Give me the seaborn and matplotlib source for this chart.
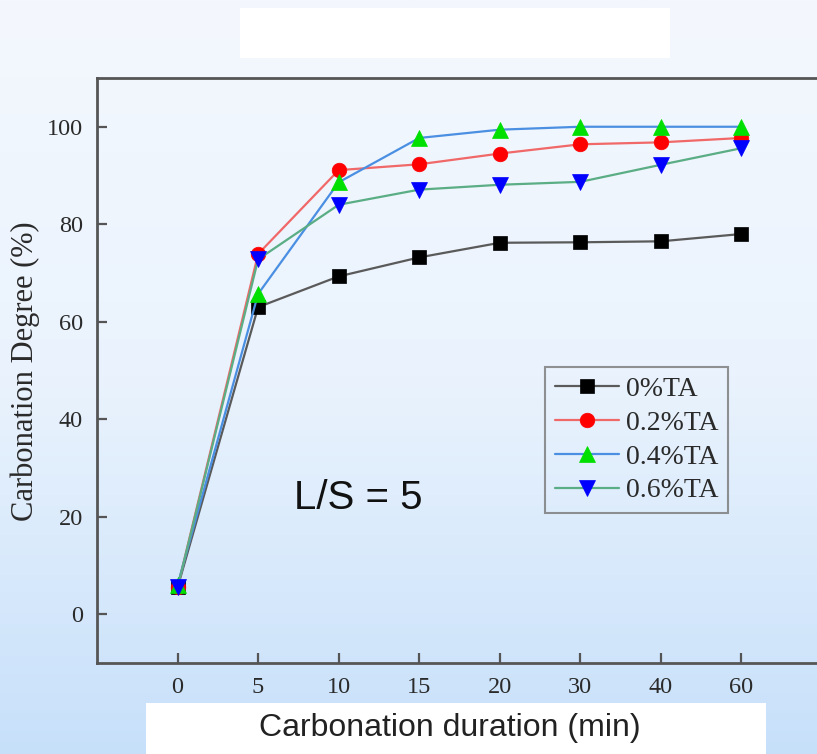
import numpy as np
import pandas as pd
import matplotlib
matplotlib.use("Agg")
import matplotlib.pyplot as plt
from matplotlib.patches import Rectangle
from matplotlib.colors import LinearSegmentedColormap
import seaborn as sns

# ---------------- data ----------------
durations = ["0", "5", "10", "15", "20", "30", "40", "60"]
ta_0 = [5.5, 63.0, 69.3, 73.2, 76.2, 76.3, 76.5, 78.0]
ta_02 = [5.5, 73.9, 91.1, 92.3, 94.5, 96.4, 96.8, 97.7]
ta_04 = [6.0, 65.7, 88.6, 97.7, 99.4, 100.0, 100.0, 100.0]
ta_06 = [5.5, 72.8, 84.0, 87.1, 88.1, 88.7, 92.2, 95.6]
series_labels = ["0%TA", "0.2%TA", "0.4%TA", "0.6%TA"]
yticks = [0, 20, 40, 60, 80, 100]

sns.set_style("ticks")
plt.rcParams["font.family"] = ["Liberation Serif", "DejaVu Serif"]

fig = plt.figure(figsize=(8.17, 7.54), dpi=100)

# background gradient
bg = fig.add_axes([0, 0, 1, 1], zorder=-10)
cmap = LinearSegmentedColormap.from_list("bg", ["#f4f8fe", "#eaf3fd", "#c7e0fa"])
grad = np.linspace(0, 1, 256).reshape(-1, 1)
bg.imshow(grad, aspect="auto", cmap=cmap, extent=[0, 1, 0, 1], origin="upper")
bg.set_axis_off()

# white boxes
fig.patches.append(Rectangle((240 / 817, 1 - 58 / 754), 430 / 817, 50 / 754,
                             transform=fig.transFigure, facecolor="white",
                             edgecolor="none", zorder=-5))
fig.patches.append(Rectangle((146 / 817, 0), 620 / 817, 51 / 754,
                             transform=fig.transFigure, facecolor="white",
                             edgecolor="none", zorder=-5))

ax = fig.add_axes([97 / 817, 1 - 663 / 754, 725 / 817, 585 / 754])
ax.set_facecolor("none")

styles = [
    dict(color="#5a5a5a", marker="s", mfc="black", mec="black", ms=9.5),
    dict(color="#f06868", marker="o", mfc="#ff0000", mec="#ff0000", ms=10.5),
    dict(color="#4a8fe2", marker="^", mfc="#00e000", mec="#00e000", ms=11),
    dict(color="#5aad84", marker="v", mfc="#0000ff", mec="#0000ff", ms=11),
]
for vals, lab, st in zip([ta_0, ta_02, ta_04, ta_06], series_labels, styles):
    df = pd.DataFrame({"duration": durations, "degree": vals})
    sns.lineplot(data=df, x="duration", y="degree", ax=ax, sort=False,
                 color=st["color"], marker=st["marker"],
                 markerfacecolor=st["mfc"], markeredgecolor=st["mec"],
                 markersize=st["ms"], markeredgewidth=0.5,
                 linewidth=1.6, label=lab, legend=False)

ax.set_xlim(-1, 8)
ax.set_ylim(-10, 110)
ax.set_yticks(yticks)
ax.set_xticks(range(len(durations)))
ax.set_xticklabels(durations)

for side in ["left", "top", "bottom"]:
    ax.spines[side].set_color("#555555")
    ax.spines[side].set_linewidth(2)
ax.spines["right"].set_visible(False)
ax.tick_params(axis="both", direction="in", length=7, width=1.6,
               color="#555555", labelsize=17.5, labelcolor="#2a2a2a", pad=10)
ax.tick_params(axis="x", pad=10)

ax.set_ylabel("Carbonation Degree (%)", fontsize=22, color="#2a2a2a")
ax.yaxis.set_label_coords(-0.078, 0.499)
ax.set_xlabel("Carbonation duration (min)", fontsize=23, color="#222222",
              family=["Liberation Sans", "DejaVu Sans"])
ax.xaxis.set_label_coords(0.487, -0.085)

ax.text(0.361, 0.282, "L/S = 5", transform=ax.transAxes, fontsize=29,
        family=["Liberation Sans", "DejaVu Sans"], color="#111111",
        ha="center", va="center")

leg = ax.legend(loc="upper left", bbox_to_anchor=(545 / 817, 1 - 367 / 754),
                bbox_transform=fig.transFigure, borderaxespad=0,
                fontsize=20, handlelength=2.3, handletextpad=0.25,
                labelspacing=0.3, borderpad=0.35, fancybox=False,
                frameon=True)
leg.get_frame().set_facecolor("none")
leg.get_frame().set_edgecolor("#777777")
leg.get_frame().set_linewidth(1.5)
for t in leg.get_texts():
    t.set_color("#2a2a2a")

fig.savefig("out.png", dpi=100)
